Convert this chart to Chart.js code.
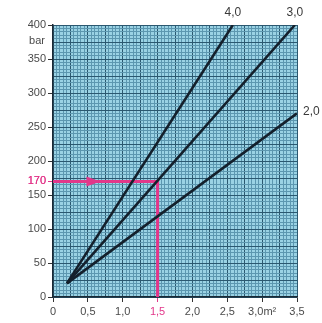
<!DOCTYPE html>
<html>
<head>
<meta charset="utf-8">
<script src="https://cdn.jsdelivr.net/npm/chart.js@4/dist/chart.umd.min.js"></script>
<style>
html,body{margin:0;padding:0;background:#fff;}
#wrap{width:322px;height:323px;position:relative;}
</style>
</head>
<body>
<div id="wrap"><canvas id="c"></canvas></div>
<script>
// Data
const lineLabels = ['4,0', '3,0', '2,0'];
const startX = [0.2, 0.2, 0.2];
const startY = [20, 20, 20];
const endX = [2.58, 3.47, 3.5];
const endY = [400, 400, 270];
const xTickLabels = ['0', '0,5', '1,0', '1,5', '2,0', '2,5', '3,0m²', '3,5'];
const yTickLabels = ['0', '50', '100', '150', '200', '250', '300', '350', '400'];
const yUnit = 'bar';
const readX = 1.5;
const readY = 170;
const readYLabel = '170';

const PINK = '#e2378a';
const TEXT = '#4a4a4a';
const FONT = "'Liberation Sans', Arial, sans-serif";

const isMultiple = (v, s) => Math.abs(v / s - Math.round(v / s)) < 1e-6;

const datasets = lineLabels.map((lab, i) => ({
  label: lab,
  data: [{x: startX[i], y: startY[i]}, {x: endX[i], y: endY[i]}],
  borderColor: '#14202c',
  borderWidth: 2.6,
  pointRadius: 0,
  tension: 0
}));
datasets.push({
  label: 'read',
  data: [{x: 0, y: readY}, {x: readX, y: readY}, {x: readX, y: 0}],
  borderColor: PINK,
  borderWidth: 3,
  pointRadius: 0,
  tension: 0
});

const bgPlugin = {
  id: 'bg',
  beforeDraw(chart) {
    const {ctx, chartArea: a} = chart;
    ctx.save();
    ctx.fillStyle = '#9ad2e4';
    ctx.fillRect(a.left, a.top, a.right - a.left, a.bottom - a.top);
    ctx.restore();
  }
};

const textPlugin = {
  id: 'texts',
  afterDatasetsDraw(chart) {
    const {ctx, scales: {x, y}, chartArea: a} = chart;
    ctx.save();
    // line labels
    ctx.fillStyle = '#3a3a3a';
    ctx.font = '12px ' + FONT;
    ctx.textBaseline = 'middle';
    lineLabels.forEach((lab, i) => {
      const px = x.getPixelForValue(endX[i]);
      const py = y.getPixelForValue(endY[i]);
      if (endY[i] >= y.max) {
        ctx.textAlign = 'center';
        ctx.fillText(lab, px, a.top - 12);
      } else {
        ctx.textAlign = 'left';
        ctx.fillText(lab, px + 6, py - 2);
      }
    });
    // unit
    ctx.fillStyle = TEXT;
    ctx.font = '11px ' + FONT;
    ctx.textAlign = 'right';
    ctx.fillText(yUnit, 45, y.getPixelForValue(y.max) + 16);
    // arrow on pink guide
    const ay = y.getPixelForValue(readY);
    const ax0 = x.getPixelForValue(0.48);
    const ax1 = x.getPixelForValue(0.68);
    ctx.fillStyle = PINK;
    ctx.beginPath();
    ctx.moveTo(ax1, ay);
    ctx.lineTo(ax0, ay - 5);
    ctx.lineTo(ax0, ay + 5);
    ctx.closePath();
    ctx.fill();
    ctx.restore();
  }
};

new Chart(document.getElementById('c'), {
  type: 'line',
  data: {datasets},
  options: {
    responsive: true,
    maintainAspectRatio: false,
    animation: false,
    devicePixelRatio: 1,
    layout: {padding: {top: 25, right: 25, left: 0, bottom: 0}},
    plugins: {legend: {display: false}, tooltip: {enabled: false}},
    scales: {
      x: {
        type: 'linear',
        min: 0, max: 3.5,
        afterFit(s) { s.height = 26; },
        ticks: {
          stepSize: 0.05,
          autoSkip: false,
          maxRotation: 0,
          padding: 3,
          font: {size: 11, family: FONT},
          color: (c) => Math.abs(c.tick.value - readX) < 1e-6 ? PINK : TEXT,
          callback: (v) => isMultiple(v, 0.5) ? xTickLabels[Math.round(v / 0.5)] : ''
        },
        grid: {
          color: (c) => isMultiple(c.tick.value, 0.25) ? '#2b5870' : '#5c97b0',
          lineWidth: 1,
          tickLength: 5,
          tickColor: (c) => isMultiple(c.tick.value, 0.5) ? (Math.abs(c.tick.value - readX) < 1e-6 ? PINK : '#333') : 'rgba(0,0,0,0)'
        },
        border: {color: '#1a2a36', width: 1.5}
      },
      y: {
        type: 'linear',
        min: 0, max: 400,
        afterFit(s) { s.width = 53; },
        afterBuildTicks(s) {
          s.ticks.push({value: readY});
          s.ticks.sort((a, b) => a.value - b.value);
        },
        ticks: {
          stepSize: 5,
          autoSkip: false,
          padding: 2,
          font: {size: 11, family: FONT},
          color: (c) => c.tick.value === readY ? PINK : TEXT,
          callback: (v) => v === readY ? readYLabel : (isMultiple(v, 50) ? yTickLabels[Math.round(v / 50)] : '')
        },
        grid: {
          color: (c) => c.tick.value === readY ? 'rgba(0,0,0,0)' : (isMultiple(c.tick.value, 25) ? '#2b5870' : '#5c97b0'),
          lineWidth: 1,
          tickLength: 5,
          tickColor: (c) => c.tick.value === readY ? PINK : (isMultiple(c.tick.value, 50) ? '#333' : 'rgba(0,0,0,0)')
        },
        border: {color: '#1a2a36', width: 1.5}
      }
    }
  },
  plugins: [bgPlugin, textPlugin]
});
</script>
</body>
</html>
